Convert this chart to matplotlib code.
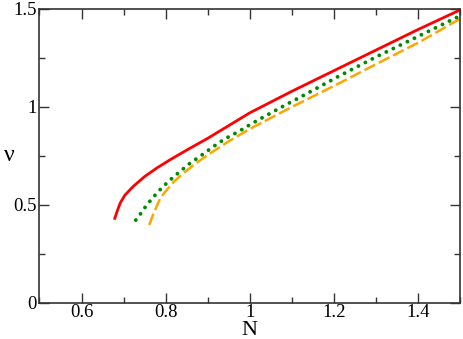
import matplotlib
matplotlib.use('Agg')
import matplotlib.pyplot as plt
from matplotlib.ticker import MultipleLocator, FuncFormatter

red_N = [0.678, 0.685, 0.692, 0.703, 0.723, 0.75, 0.78, 0.81, 0.85, 0.90, 0.95, 1.00, 1.10, 1.20, 1.30, 1.40, 1.50]
red_v = [0.425, 0.47, 0.51, 0.55, 0.595, 0.645, 0.69, 0.73, 0.78, 0.84, 0.905, 0.97, 1.08, 1.185, 1.29, 1.395, 1.495]

green_N = [0.729, 0.742, 0.755, 0.781, 0.806, 0.832, 0.858, 0.886, 0.913, 0.939, 0.977, 1.007, 1.076, 1.133, 1.21, 1.30, 1.405, 1.50]
green_v = [0.423, 0.46, 0.50, 0.566, 0.619, 0.667, 0.713, 0.755, 0.797, 0.835, 0.879, 0.918, 1.0, 1.065, 1.155, 1.255, 1.365, 1.465]

orange_N = [0.761, 0.770, 0.779, 0.787, 0.80, 0.82, 0.842, 0.87, 0.90, 0.95, 1.00, 1.10, 1.21, 1.30, 1.405, 1.50]
orange_v = [0.398, 0.45, 0.495, 0.534, 0.57, 0.62, 0.662, 0.71, 0.755, 0.825, 0.888, 1.0, 1.118, 1.218, 1.333, 1.45]

xticks = [0.6, 0.8, 1.0, 1.2, 1.4]
yticks = [0, 0.5, 1.0, 1.5]

plt.rcParams['font.family'] = ['Liberation Serif', 'DejaVu Serif']

fig = plt.figure(figsize=(4.63, 3.39), dpi=100)
ax = fig.add_axes([0.0853, 0.1062, 0.9082, 0.8673])

ax.plot(red_N, red_v, color='#ff0000', lw=2.0, solid_capstyle='butt')
ax.plot(orange_N, orange_v, color='#ffa500', lw=1.8, dashes=(4.8, 1.6), dash_capstyle='butt')
ax.plot(green_N, green_v, color='#008a00', lw=2.8, dashes=(0.01, 2.0), dash_capstyle='round')

ax.set_xlim(0.5, 1.5)
ax.set_ylim(0, 1.5)
ax.set_xticks(xticks)
ax.set_yticks(yticks)
ax.xaxis.set_minor_locator(MultipleLocator(0.1))
ax.yaxis.set_minor_locator(MultipleLocator(0.25))

fmt = FuncFormatter(lambda v, p: ('%g' % v))
ax.xaxis.set_major_formatter(fmt)
ax.yaxis.set_major_formatter(fmt)

ax.tick_params(which='both', direction='in', top=True, right=True, labelsize=13.5, width=1.0, color='#333333')
ax.tick_params(which='major', length=7)
ax.tick_params(which='minor', length=4)
ax.tick_params(axis='x', pad=1)
ax.tick_params(axis='y', pad=2)
for s in ax.spines.values():
    s.set_linewidth(1.2)
    s.set_color('#333333')

ax.set_xlabel('N', fontsize=16, va='center')
ax.xaxis.set_label_coords(0.5, -0.092)
ax.set_ylabel('ν', fontsize=17, rotation=0, va='center')
ax.yaxis.set_label_coords(-0.072, 0.5)

fig.savefig('out.png', dpi=100)
